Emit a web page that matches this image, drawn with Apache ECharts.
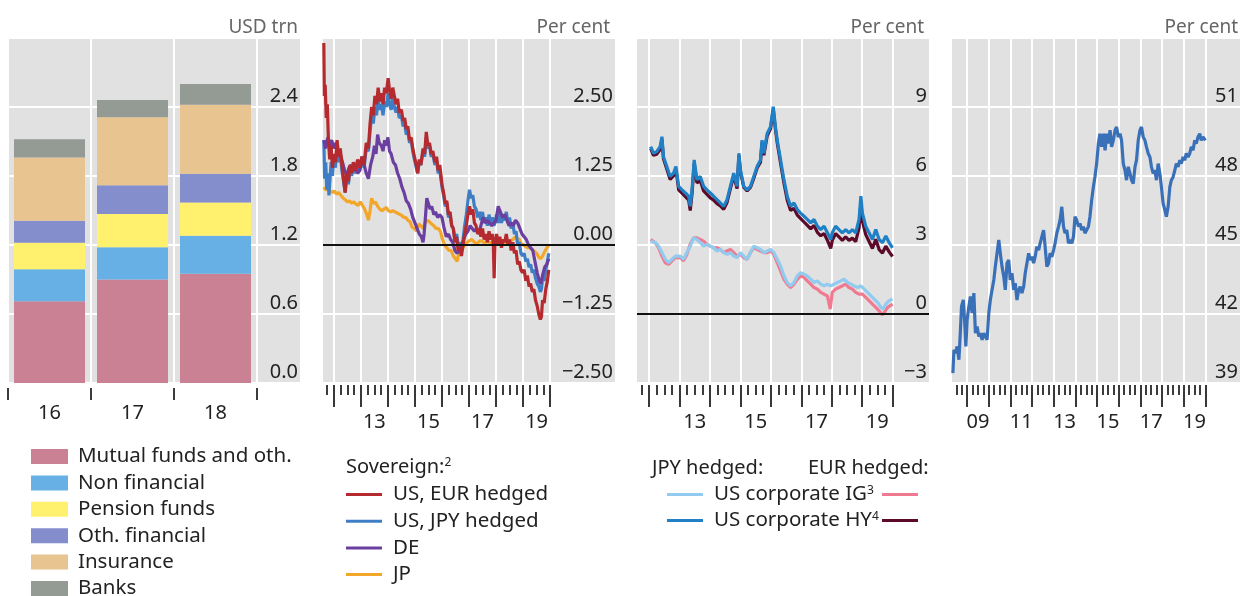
<!DOCTYPE html>
<html>
<head>
<meta charset="utf-8">
<script src="https://cdn.jsdelivr.net/npm/echarts@6/dist/echarts.min.js"></script>
<style>
html, body { margin: 0; padding: 0; background: #fff; }
#chart { width: 1241px; height: 596px; }
</style>
</head>
<body>
<div id="chart"></div>
<script>
// ---- panel 1: holders, USD trn ----
var barYears = ['16', '17', '18'];
var mutualFunds = [0.71, 0.90, 0.95];
var nonFinancial = [0.28, 0.28, 0.33];
var pensionFunds = [0.23, 0.29, 0.29];
var othFinancial = [0.19, 0.25, 0.25];
var insurance = [0.55, 0.59, 0.60];
var banks = [0.16, 0.15, 0.18];

// ---- panel 2: sovereign yields, per cent ----
var usEurHedged = [[2011.63,3.66],[2011.65,2.7],[2011.68,2.9],[2011.72,2.3],[2011.76,2.55],[2011.80,1.9],[2011.85,1.55],[2011.90,1.8],[2011.95,1.4],[2012.00,1.65],[2012.06,1.5],[2012.12,1.9],[2012.18,1.6],[2012.24,1.75],[2012.30,1.45],[2012.36,1.2],[2012.42,0.95],[2012.48,1.3],[2012.54,1.15],[2012.60,1.45],[2012.66,1.3],[2012.72,1.5],[2012.80,1.35],[2012.88,1.55],[2012.96,1.4],[2013.04,1.6],[2013.12,1.45],[2013.20,1.85],[2013.28,1.75],[2013.34,2.2],[2013.40,2.5],[2013.46,2.35],[2013.52,2.7],[2013.58,2.55],[2013.64,2.85],[2013.70,2.6],[2013.76,2.75],[2013.82,2.55],[2013.88,2.85],[2013.94,2.75],[2014.01,3.02],[2014.06,2.8],[2014.12,2.65],[2014.18,2.85],[2014.24,2.7],[2014.30,2.55],[2014.36,2.65],[2014.42,2.4],[2014.50,2.45],[2014.56,2.25],[2014.62,2.3],[2014.68,2.1],[2014.74,2.15],[2014.80,1.9],[2014.86,1.95],[2014.92,1.75],[2014.98,1.6],[2015.05,1.45],[2015.10,1.3],[2015.16,1.55],[2015.22,1.45],[2015.30,1.75],[2015.36,1.65],[2015.42,2.05],[2015.48,1.8],[2015.54,1.85],[2015.60,1.65],[2015.66,1.7],[2015.74,1.5],[2015.80,1.6],[2015.86,1.35],[2015.92,1.45],[2016.00,1.1],[2016.06,0.95],[2016.12,0.75],[2016.18,0.8],[2016.24,0.55],[2016.30,0.6],[2016.36,0.35],[2016.42,0.3],[2016.48,0.05],[2016.54,0.15],[2016.60,-0.1],[2016.66,-0.05],[2016.72,-0.2],[2016.78,0.0],[2016.84,0.2],[2016.90,0.35],[2016.96,0.55],[2017.02,0.7],[2017.08,0.55],[2017.14,0.65],[2017.20,0.4],[2017.26,0.35],[2017.32,0.2],[2017.38,0.3],[2017.44,0.15],[2017.50,0.3],[2017.56,0.1],[2017.62,0.2],[2017.68,0.05],[2017.74,0.25],[2017.80,0.1],[2017.86,0.2],[2017.90,0.0],[2017.93,-0.6],[2017.96,0.05],[2018.02,0.2],[2018.08,0.0],[2018.14,0.15],[2018.20,-0.05],[2018.26,0.1],[2018.32,0.05],[2018.38,0.2],[2018.44,0.0],[2018.50,0.1],[2018.56,-0.1],[2018.62,0.05],[2018.68,-0.15],[2018.74,-0.1],[2018.80,-0.35],[2018.86,-0.3],[2018.92,-0.45],[2018.98,-0.5],[2019.04,-0.45],[2019.10,-0.65],[2019.16,-0.55],[2019.22,-0.75],[2019.28,-0.7],[2019.34,-0.85],[2019.40,-0.8],[2019.46,-1.0],[2019.52,-1.1],[2019.58,-1.25],[2019.64,-1.35],[2019.68,-1.3],[2019.72,-1.0],[2019.78,-1.05],[2019.84,-0.8],[2019.90,-0.65],[2019.95,-0.45]];
var usJpyHedged = [[2011.63,1.9],[2011.66,1.2],[2011.70,1.5],[2011.74,1.0],[2011.78,1.3],[2011.82,0.9],[2011.86,1.2],[2011.90,1.5],[2011.95,1.25],[2012.00,1.6],[2012.06,1.4],[2012.12,1.75],[2012.18,1.5],[2012.24,1.65],[2012.30,1.35],[2012.36,1.15],[2012.42,0.95],[2012.48,1.25],[2012.54,1.1],[2012.60,1.4],[2012.66,1.25],[2012.72,1.45],[2012.80,1.3],[2012.88,1.5],[2012.96,1.35],[2013.04,1.55],[2013.12,1.4],[2013.20,1.75],[2013.28,1.7],[2013.34,2.05],[2013.40,2.35],[2013.46,2.2],[2013.52,2.5],[2013.58,2.35],[2013.64,2.65],[2013.70,2.45],[2013.76,2.55],[2013.82,2.35],[2013.88,2.6],[2013.94,2.5],[2014.01,2.75],[2014.06,2.55],[2014.12,2.45],[2014.18,2.65],[2014.24,2.5],[2014.30,2.4],[2014.36,2.5],[2014.42,2.3],[2014.50,2.35],[2014.56,2.15],[2014.62,2.2],[2014.68,2.0],[2014.74,2.05],[2014.80,1.85],[2014.86,1.9],[2014.92,1.7],[2014.98,1.55],[2015.05,1.4],[2015.10,1.3],[2015.16,1.5],[2015.22,1.45],[2015.30,1.7],[2015.36,1.6],[2015.42,1.95],[2015.48,1.75],[2015.54,1.8],[2015.60,1.6],[2015.66,1.65],[2015.74,1.45],[2015.80,1.55],[2015.86,1.3],[2015.92,1.35],[2016.00,1.05],[2016.06,0.9],[2016.12,0.7],[2016.18,0.75],[2016.24,0.5],[2016.30,0.55],[2016.36,0.35],[2016.42,0.3],[2016.48,0.1],[2016.54,0.2],[2016.60,0.0],[2016.66,0.05],[2016.72,-0.1],[2016.78,0.1],[2016.84,0.35],[2016.90,0.55],[2016.96,0.8],[2017.02,1.0],[2017.08,0.85],[2017.14,0.9],[2017.20,0.7],[2017.26,0.65],[2017.32,0.5],[2017.38,0.6],[2017.44,0.45],[2017.50,0.6],[2017.56,0.4],[2017.62,0.5],[2017.68,0.35],[2017.74,0.55],[2017.80,0.4],[2017.86,0.5],[2017.92,0.35],[2017.96,0.4],[2018.02,0.55],[2018.08,0.4],[2018.14,0.6],[2018.20,0.4],[2018.26,0.5],[2018.32,0.45],[2018.38,0.6],[2018.44,0.4],[2018.50,0.5],[2018.56,0.3],[2018.62,0.4],[2018.68,0.2],[2018.74,0.25],[2018.80,0.0],[2018.86,0.05],[2018.92,-0.15],[2018.98,-0.2],[2019.04,-0.15],[2019.10,-0.3],[2019.16,-0.25],[2019.22,-0.4],[2019.28,-0.35],[2019.34,-0.5],[2019.40,-0.45],[2019.46,-0.6],[2019.52,-0.7],[2019.58,-0.75],[2019.64,-0.85],[2019.68,-0.8],[2019.72,-0.6],[2019.78,-0.65],[2019.84,-0.45],[2019.90,-0.3],[2019.95,-0.15]];
var deYield = [[2011.63,1.9],[2011.70,1.75],[2011.78,1.95],[2011.85,1.8],[2011.92,1.9],[2012.00,1.75],[2012.08,1.85],[2012.16,1.7],[2012.24,1.65],[2012.32,1.5],[2012.40,1.35],[2012.48,1.25],[2012.56,1.4],[2012.64,1.45],[2012.72,1.35],[2012.80,1.4],[2012.88,1.3],[2012.96,1.35],[2013.04,1.6],[2013.12,1.45],[2013.20,1.3],[2013.28,1.2],[2013.36,1.45],[2013.44,1.6],[2013.50,1.8],[2013.56,1.65],[2013.62,2.0],[2013.68,1.85],[2013.76,1.8],[2013.82,1.7],[2013.88,1.9],[2013.94,1.8],[2014.00,1.95],[2014.06,1.7],[2014.12,1.65],[2014.20,1.5],[2014.28,1.45],[2014.36,1.3],[2014.44,1.2],[2014.52,1.05],[2014.60,0.95],[2014.68,0.8],[2014.76,0.75],[2014.84,0.65],[2014.92,0.5],[2015.00,0.4],[2015.08,0.3],[2015.16,0.2],[2015.24,0.15],[2015.30,0.05],[2015.34,0.2],[2015.38,0.45],[2015.44,0.85],[2015.50,0.75],[2015.56,0.65],[2015.62,0.7],[2015.70,0.55],[2015.76,0.6],[2015.84,0.5],[2015.92,0.55],[2016.00,0.5],[2016.08,0.3],[2016.16,0.15],[2016.24,0.2],[2016.32,0.1],[2016.40,0.05],[2016.48,-0.1],[2016.56,-0.15],[2016.64,-0.1],[2016.72,-0.05],[2016.80,0.1],[2016.88,0.2],[2016.96,0.25],[2017.04,0.35],[2017.12,0.3],[2017.20,0.25],[2017.28,0.3],[2017.36,0.2],[2017.44,0.35],[2017.52,0.5],[2017.60,0.4],[2017.68,0.45],[2017.76,0.4],[2017.84,0.35],[2017.92,0.4],[2018.00,0.45],[2018.08,0.7],[2018.16,0.6],[2018.24,0.5],[2018.32,0.55],[2018.40,0.45],[2018.48,0.35],[2018.56,0.4],[2018.64,0.35],[2018.72,0.45],[2018.80,0.4],[2018.88,0.3],[2018.96,0.2],[2019.04,0.15],[2019.12,0.1],[2019.20,0.0],[2019.28,-0.05],[2019.36,-0.1],[2019.44,-0.3],[2019.52,-0.5],[2019.60,-0.65],[2019.66,-0.7],[2019.72,-0.55],[2019.80,-0.4],[2019.88,-0.35],[2019.95,-0.25]];
var jpYield = [[2011.63,1.05],[2011.70,1.0],[2011.78,1.02],[2011.86,0.98],[2011.94,0.95],[2012.02,0.98],[2012.10,0.92],[2012.18,0.95],[2012.26,0.9],[2012.34,0.85],[2012.42,0.82],[2012.50,0.78],[2012.58,0.8],[2012.66,0.76],[2012.74,0.78],[2012.82,0.74],[2012.90,0.72],[2012.98,0.78],[2013.06,0.72],[2013.14,0.65],[2013.22,0.55],[2013.28,0.45],[2013.34,0.62],[2013.40,0.85],[2013.46,0.75],[2013.54,0.78],[2013.62,0.7],[2013.70,0.65],[2013.78,0.62],[2013.86,0.65],[2013.94,0.68],[2014.02,0.62],[2014.10,0.6],[2014.18,0.62],[2014.26,0.6],[2014.34,0.58],[2014.42,0.56],[2014.50,0.54],[2014.58,0.5],[2014.66,0.5],[2014.74,0.45],[2014.82,0.42],[2014.90,0.32],[2014.98,0.3],[2015.06,0.25],[2015.14,0.38],[2015.22,0.35],[2015.30,0.3],[2015.38,0.4],[2015.46,0.45],[2015.54,0.42],[2015.62,0.38],[2015.70,0.35],[2015.78,0.3],[2015.86,0.3],[2015.94,0.25],[2016.02,0.1],[2016.10,0.0],[2016.18,-0.05],[2016.26,-0.1],[2016.34,-0.1],[2016.42,-0.2],[2016.50,-0.25],[2016.56,-0.3],[2016.62,-0.15],[2016.70,-0.08],[2016.78,-0.05],[2016.86,0.02],[2016.94,0.05],[2017.02,0.08],[2017.10,0.1],[2017.18,0.06],[2017.26,0.02],[2017.34,0.05],[2017.42,0.08],[2017.50,0.06],[2017.58,0.04],[2017.66,0.06],[2017.74,0.05],[2017.82,0.04],[2017.90,0.05],[2017.98,0.06],[2018.06,0.07],[2018.14,0.05],[2018.22,0.04],[2018.30,0.05],[2018.38,0.04],[2018.46,0.05],[2018.54,0.08],[2018.62,0.1],[2018.70,0.14],[2018.78,0.12],[2018.86,0.1],[2018.94,0.02],[2019.02,0.0],[2019.10,-0.03],[2019.18,-0.05],[2019.26,-0.05],[2019.34,-0.08],[2019.42,-0.12],[2019.50,-0.15],[2019.58,-0.22],[2019.66,-0.25],[2019.72,-0.2],[2019.80,-0.12],[2019.88,-0.05],[2019.95,0.0]];
var p2LabelYears = [2013, 2015, 2017, 2019];

// ---- panel 3: US corporate yields, hedged, per cent ----
var hyJpyHedged = [[2012.05,7.28],[2012.14,6.99],[2012.25,7.06],[2012.36,7.28],[2012.42,7.71],[2012.47,6.84],[2012.58,6.41],[2012.69,5.98],[2012.80,6.12],[2012.88,6.41],[2012.97,5.55],[2013.08,5.40],[2013.19,5.26],[2013.30,5.12],[2013.35,4.68],[2013.41,5.40],[2013.48,6.70],[2013.57,5.84],[2013.68,5.98],[2013.79,5.55],[2013.90,5.40],[2014.01,5.26],[2014.12,5.12],[2014.23,4.97],[2014.34,4.83],[2014.45,4.68],[2014.51,4.61],[2014.56,4.97],[2014.67,5.55],[2014.78,6.12],[2014.89,5.55],[2014.95,6.99],[2015.00,6.27],[2015.11,5.55],[2015.22,5.40],[2015.33,5.55],[2015.44,5.98],[2015.55,6.41],[2015.66,6.70],[2015.71,7.56],[2015.77,6.99],[2015.88,7.85],[2015.99,8.14],[2016.08,9.01],[2016.15,8.14],[2016.21,7.56],[2016.32,6.70],[2016.43,5.84],[2016.54,5.12],[2016.65,4.68],[2016.76,4.83],[2016.87,4.54],[2016.98,4.39],[2017.09,4.25],[2017.20,4.11],[2017.31,3.96],[2017.42,4.11],[2017.53,3.82],[2017.64,3.67],[2017.75,3.82],[2017.86,3.53],[2017.97,3.24],[2018.02,3.53],[2018.13,3.82],[2018.24,3.67],[2018.35,3.53],[2018.46,3.67],[2018.57,3.53],[2018.68,3.67],[2018.79,3.53],[2018.90,4.11],[2018.96,5.12],[2019.01,4.39],[2019.12,3.82],[2019.23,3.53],[2019.34,3.24],[2019.45,3.67],[2019.56,3.24],[2019.67,3.10],[2019.78,3.39],[2019.89,3.10],[2020.00,2.88]];
var hyEurHedged = [[2012.05,7.2],[2012.14,6.9],[2012.25,6.95],[2012.36,7.15],[2012.42,7.6],[2012.47,6.75],[2012.58,6.3],[2012.69,5.85],[2012.80,6.0],[2012.88,6.3],[2012.97,5.4],[2013.08,5.25],[2013.19,5.1],[2013.30,4.95],[2013.35,4.5],[2013.41,5.25],[2013.48,6.55],[2013.57,5.7],[2013.68,5.8],[2013.79,5.35],[2013.90,5.2],[2014.01,5.05],[2014.12,4.95],[2014.23,4.8],[2014.34,4.7],[2014.45,4.55],[2014.51,4.5],[2014.56,4.85],[2014.67,5.45],[2014.78,6.0],[2014.89,5.45],[2014.95,6.9],[2015.00,6.2],[2015.11,5.5],[2015.22,5.35],[2015.33,5.5],[2015.44,5.9],[2015.55,6.35],[2015.66,6.6],[2015.71,7.45],[2015.77,6.9],[2015.88,7.75],[2015.99,8.05],[2016.08,8.9],[2016.15,8.05],[2016.21,7.45],[2016.32,6.55],[2016.43,5.7],[2016.54,4.95],[2016.65,4.5],[2016.76,4.6],[2016.87,4.3],[2016.98,4.15],[2017.09,4.0],[2017.20,3.85],[2017.31,3.7],[2017.42,3.85],[2017.53,3.55],[2017.64,3.4],[2017.75,3.5],[2017.86,3.2],[2017.97,2.85],[2018.02,3.2],[2018.13,3.5],[2018.24,3.35],[2018.35,3.2],[2018.46,3.35],[2018.57,3.2],[2018.68,3.3],[2018.79,3.15],[2018.90,3.75],[2018.96,4.8],[2019.01,4.05],[2019.12,3.45],[2019.23,3.15],[2019.34,2.85],[2019.45,3.25],[2019.56,2.8],[2019.67,2.65],[2019.78,2.95],[2019.89,2.7],[2020.00,2.5]];
var igJpyHedged = [[2012.05,3.17],[2012.20,3.10],[2012.31,2.95],[2012.42,2.67],[2012.53,2.38],[2012.64,2.23],[2012.75,2.38],[2012.86,2.52],[2013.02,2.52],[2013.13,2.38],[2013.24,2.67],[2013.35,2.95],[2013.46,3.31],[2013.57,3.24],[2013.68,3.10],[2013.79,2.95],[2013.90,3.03],[2014.01,2.95],[2014.12,2.88],[2014.23,2.74],[2014.34,2.81],[2014.45,2.67],[2014.56,2.59],[2014.67,2.67],[2014.78,2.52],[2014.89,2.45],[2015.00,2.67],[2015.11,2.52],[2015.22,2.38],[2015.33,2.67],[2015.44,2.95],[2015.55,2.88],[2015.66,2.81],[2015.77,2.67],[2015.88,2.74],[2015.99,2.81],[2016.10,2.67],[2016.21,2.38],[2016.32,2.09],[2016.43,1.66],[2016.54,1.37],[2016.65,1.22],[2016.76,1.37],[2016.87,1.66],[2016.98,1.80],[2017.09,1.73],[2017.20,1.66],[2017.31,1.51],[2017.42,1.37],[2017.53,1.44],[2017.64,1.30],[2017.75,1.22],[2017.86,1.30],[2017.97,1.22],[2018.08,1.30],[2018.19,1.37],[2018.30,1.44],[2018.41,1.51],[2018.52,1.37],[2018.63,1.30],[2018.74,1.22],[2018.85,1.15],[2018.96,1.22],[2019.07,1.08],[2019.18,0.94],[2019.29,0.79],[2019.40,0.65],[2019.51,0.50],[2019.62,0.29],[2019.70,0.22],[2019.78,0.43],[2019.89,0.58],[2020.00,0.65]];
var igEurHedged = [[2012.05,3.24],[2012.20,3.10],[2012.31,2.88],[2012.42,2.52],[2012.53,2.23],[2012.64,2.16],[2012.75,2.31],[2012.86,2.45],[2013.02,2.45],[2013.13,2.31],[2013.24,2.59],[2013.35,3.03],[2013.46,3.31],[2013.57,3.31],[2013.68,3.24],[2013.79,3.17],[2013.90,3.03],[2014.01,2.95],[2014.12,2.88],[2014.23,2.88],[2014.34,2.81],[2014.45,2.67],[2014.56,2.74],[2014.67,2.81],[2014.78,2.67],[2014.89,2.52],[2015.00,2.59],[2015.11,2.45],[2015.22,2.38],[2015.33,2.67],[2015.44,2.88],[2015.55,2.81],[2015.66,2.74],[2015.77,2.67],[2015.88,2.67],[2015.99,2.74],[2016.10,2.59],[2016.21,2.23],[2016.32,1.87],[2016.43,1.51],[2016.54,1.30],[2016.65,1.15],[2016.76,1.30],[2016.87,1.51],[2016.98,1.66],[2017.09,1.59],[2017.20,1.44],[2017.31,1.30],[2017.42,1.15],[2017.53,1.08],[2017.64,0.94],[2017.75,0.86],[2017.86,0.79],[2017.95,0.22],[2018.02,0.94],[2018.13,1.08],[2018.24,1.15],[2018.35,1.22],[2018.46,1.30],[2018.57,1.15],[2018.68,1.08],[2018.79,0.94],[2018.90,0.86],[2019.01,0.86],[2019.12,0.72],[2019.23,0.58],[2019.34,0.43],[2019.45,0.29],[2019.56,0.14],[2019.67,-0.04],[2019.73,0.07],[2019.84,0.29],[2020.00,0.43]];
var p3LabelYears = [2013, 2015, 2017, 2019];

// ---- panel 4: per cent ----
var sharePct = [[2008.34,39.43],[2008.39,40.44],[2008.46,40.30],[2008.54,40.59],[2008.62,40.01],[2008.69,41.31],[2008.74,42.33],[2008.82,42.61],[2008.88,41.75],[2008.94,40.59],[2009.00,41.75],[2009.08,42.33],[2009.15,42.76],[2009.23,42.04],[2009.31,42.91],[2009.38,41.17],[2009.46,41.46],[2009.54,41.02],[2009.61,41.17],[2009.69,40.88],[2009.77,41.17],[2009.84,41.02],[2009.92,40.88],[2010.00,42.04],[2010.07,42.61],[2010.15,43.05],[2010.23,43.48],[2010.30,44.06],[2010.38,44.64],[2010.46,45.22],[2010.53,44.64],[2010.61,44.06],[2010.69,43.63],[2010.76,43.05],[2010.84,44.21],[2010.92,44.35],[2010.99,43.48],[2011.07,43.77],[2011.15,43.05],[2011.22,43.34],[2011.30,42.61],[2011.38,43.05],[2011.45,43.19],[2011.53,42.91],[2011.61,43.19],[2011.68,43.77],[2011.76,44.21],[2011.84,44.64],[2011.91,44.35],[2011.99,44.49],[2012.07,44.21],[2012.14,44.49],[2012.22,44.93],[2012.30,44.78],[2012.37,45.07],[2012.45,45.36],[2012.53,45.65],[2012.60,44.93],[2012.68,44.06],[2012.76,44.21],[2012.83,44.64],[2012.91,44.49],[2012.99,44.78],[2013.06,45.07],[2013.14,45.51],[2013.22,45.80],[2013.29,46.08],[2013.37,46.66],[2013.45,45.80],[2013.52,45.51],[2013.60,45.65],[2013.68,45.07],[2013.75,45.22],[2013.83,45.07],[2013.91,45.36],[2013.98,46.23],[2014.06,46.08],[2014.14,45.80],[2014.21,45.94],[2014.29,45.65],[2014.37,45.80],[2014.44,45.51],[2014.52,45.65],[2014.60,45.80],[2014.67,46.23],[2014.75,46.95],[2014.83,47.53],[2014.90,47.96],[2014.98,48.54],[2015.06,49.41],[2015.13,49.84],[2015.21,49.27],[2015.29,49.84],[2015.37,49.12],[2015.44,49.84],[2015.52,49.41],[2015.60,49.99],[2015.67,49.27],[2015.75,49.55],[2015.83,49.99],[2015.90,50.13],[2015.98,49.70],[2016.06,49.84],[2016.13,49.55],[2016.21,48.54],[2016.29,48.25],[2016.36,47.82],[2016.44,48.40],[2016.52,48.11],[2016.59,47.82],[2016.67,47.67],[2016.75,48.40],[2016.82,48.69],[2016.90,49.55],[2016.98,49.99],[2017.05,50.13],[2017.13,49.70],[2017.21,49.55],[2017.28,49.27],[2017.36,48.98],[2017.44,48.83],[2017.51,48.40],[2017.59,48.11],[2017.67,48.25],[2017.74,47.82],[2017.82,48.54],[2017.90,48.11],[2017.97,47.53],[2018.05,46.81],[2018.13,46.52],[2018.20,46.23],[2018.28,46.66],[2018.36,47.53],[2018.43,47.82],[2018.51,47.96],[2018.59,48.25],[2018.66,48.54],[2018.74,48.40],[2018.82,48.69],[2018.89,48.54],[2018.97,48.83],[2019.05,48.69],[2019.12,48.98],[2019.20,48.83],[2019.28,48.98],[2019.35,49.27],[2019.43,49.12],[2019.51,49.55],[2019.58,49.41],[2019.66,49.70],[2019.74,49.84],[2019.81,49.55],[2019.89,49.70],[2020.00,49.55]];
var p4LabelYears = [2009, 2011, 2013, 2015, 2017, 2019];

var corpLegend = {
    'IG JPY': 'US corporate IG{sup|3}',
    'HY JPY': 'US corporate HY{sup|4}'
};

var chart = echarts.init(document.getElementById('chart'));

var FONT = 'Noto Sans';
var TXT = '#222';
var TICK = '#3c3c3c';
var TICK_MAJOR = '#383838';
var GRAY_BG = '#E1E1E1';
var LINE_W = 3.2;
var GRID_H = 345;

function years(from, to) {
    var out = [];
    for (var y = from; y <= to; y++) out.push(y);
    return out;
}
function quarters(from, to) {
    var out = [];
    for (var y = from; y < to; y++) out.push(y + 0.25, y + 0.5, y + 0.75);
    return out;
}
function twoDigit(v) {
    return String(Math.floor(v)).slice(2);
}
function signed(v, digits) {
    var s = digits == null ? String(Math.abs(v)) : Math.abs(v).toFixed(digits);
    return (v < 0 ? '\u2212' : '') + s;
}

// main time axis: white year gridlines, labels mid-year
function timeAxis(gridIndex, min, max, tickYears, labelYears) {
    return {
        type: 'value', gridIndex: gridIndex, position: 'bottom', offset: 2,
        min: min, max: max,
        axisLine: { show: false, onZero: false },
        axisTick: { show: false, customValues: tickYears },
        splitLine: { show: true, lineStyle: { color: '#fff', width: 2 } },
        axisLabel: {
            customValues: labelYears.map(function (y) { return y + 0.5; }),
            formatter: twoDigit, margin: 27, fontSize: 20, color: TXT, fontFamily: FONT
        }
    };
}
// tick-only axis at the bottom (custom positions)
function tickAxis(gridIndex, min, max, ticks, len, color) {
    return {
        type: 'value', gridIndex: gridIndex, position: 'bottom', offset: 2,
        min: min, max: max,
        axisLine: { show: false, onZero: false },
        axisTick: { show: true, customValues: ticks, length: len, lineStyle: { color: color, width: 2 } },
        splitLine: { show: false },
        axisLabel: { show: false }
    };
}
// long year ticks: plain interval-1 axis on a grid spanning first..last year
function yearTickAxis(gridIndex, first, last) {
    return {
        type: 'value', gridIndex: gridIndex, position: 'bottom', offset: 2,
        min: first, max: last, interval: 1,
        axisLine: { show: false, onZero: false },
        axisTick: { show: true, length: 22, lineStyle: { color: TICK_MAJOR, width: 2 } },
        splitLine: { show: false },
        axisLabel: { show: false }
    };
}
function hiddenY(gridIndex) {
    return { type: 'value', gridIndex: gridIndex, min: 0, max: 1, show: false };
}
function valueAxis(gridIndex, min, max, interval, name, namePad, fmt) {
    return {
        type: 'value', gridIndex: gridIndex, position: 'right',
        min: min, max: max, interval: interval,
        name: name, nameLocation: 'end', nameGap: 1,
        nameTextStyle: { align: 'right', verticalAlign: 'bottom', color: '#666', fontSize: 19, fontFamily: FONT, padding: [0, namePad, 0, 0] },
        axisLine: { show: false, onZero: false },
        axisTick: { show: false },
        splitLine: { show: true, lineStyle: { color: '#fff', width: 2 } },
        axisLabel: {
            inside: true, margin: 2, showMaxLabel: false,
            fontSize: 20, color: TXT, fontFamily: FONT,
            verticalAlign: 'bottom', lineHeight: 20, padding: [0, 0, 1, 0],
            formatter: fmt
        }
    };
}

var barDefs = [
    ['Mutual funds and oth.', mutualFunds, '#C98193'],
    ['Non financial', nonFinancial, '#66B0E6'],
    ['Pension funds', pensionFunds, '#FFF06E'],
    ['Oth. financial', othFinancial, '#848ECC'],
    ['Insurance', insurance, '#E8C490'],
    ['Banks', banks, '#949A94']
];
var barSeries = barDefs.map(function (d) {
    return {
        name: d[0], type: 'bar', stack: 'holders', xAxisIndex: 1, yAxisIndex: 4,
        barWidth: 71, itemStyle: { color: d[2] },
        data: d[1]
    };
});

function lineSeries(name, data, color, xIdx, yIdx, extra) {
    var s = {
        name: name, type: 'line', data: data, xAxisIndex: xIdx, yAxisIndex: yIdx,
        showSymbol: false, symbol: 'none',
        itemStyle: { color: color },
        lineStyle: { color: color, width: LINE_W }
    };
    if (extra) s.markLine = extra;
    return s;
}
var zeroLine = {
    silent: true, symbol: 'none', label: { show: false },
    lineStyle: { color: '#111', width: 2, type: 'solid' },
    data: [{ yAxis: 0 }]
};

var legendText = { fontSize: 20.5, lineHeight: 20, color: TXT, fontFamily: FONT };
var supStyle = { fontSize: 12, lineHeight: 12, verticalAlign: 'top', color: TXT, fontFamily: FONT };

var P2 = [2011.6, 2022.4], P3 = [2011.6, 2021.2], P4 = [2008.3, 2021.6];
var panelRects = [
    { left: 8, top: 38, width: 292, height: GRID_H },
    { left: 323, top: 38, width: 292, height: GRID_H },
    { left: 637, top: 38, width: 292, height: GRID_H },
    { left: 952, top: 38, width: 288, height: GRID_H }
];
// grid rectangle covering only first..last year of a panel's time range
function yearSpanRect(rect, range, first, last) {
    var pxPerYear = rect.width / (range[1] - range[0]);
    return {
        left: rect.left + (first - range[0]) * pxPerYear,
        top: rect.top,
        width: (last - first) * pxPerYear,
        height: rect.height,
        show: false
    };
}

var option = {
    animation: false,
    textStyle: { fontFamily: FONT },
    grid: [
        // 0-3 panels
        Object.assign({ show: true }, panelRects[0]),
        Object.assign({ show: true }, panelRects[1]),
        Object.assign({ show: true }, panelRects[2]),
        Object.assign({ show: true }, panelRects[3]),
        // 4 bar area of panel 1
        { left: 8, top: 38, width: 249, height: GRID_H, show: false },
        // 5-7 year-span grids carrying the long year ticks
        yearSpanRect(panelRects[1], P2, 2012, 2020),
        yearSpanRect(panelRects[2], P3, 2012, 2020),
        yearSpanRect(panelRects[3], P4, 2009, 2020)
    ].map(function (g) {
        return Object.assign({ backgroundColor: GRAY_BG, borderWidth: 0, outerBoundsMode: 'none' }, g);
    }),
    title: [
        {
            text: 'Sovereign:{sup|2}', left: 346, top: 457, padding: 0,
            textStyle: { fontSize: 20, fontWeight: 'normal', lineHeight: 20, color: TXT, fontFamily: FONT, rich: { sup: supStyle } }
        },
        { text: 'JPY hedged:', left: 652, top: 458, padding: 0,
          textStyle: { fontSize: 20, fontWeight: 'normal', lineHeight: 20, color: TXT, fontFamily: FONT } },
        { text: 'EUR hedged:', left: 808, top: 458, padding: 0,
          textStyle: { fontSize: 20, fontWeight: 'normal', lineHeight: 20, color: TXT, fontFamily: FONT } }
    ],
    legend: [
        {
            orient: 'vertical', left: 31, top: 446, height: 170, padding: 0, itemGap: 5.4,
            itemWidth: 37, itemHeight: 15, icon: 'rect', selectedMode: false,
            itemStyle: { borderWidth: 0 },
            data: barDefs.map(function (d) { return d[0]; }),
            textStyle: Object.assign({ padding: [0, 0, 0, 5] }, legendText)
        },
        {
            orient: 'vertical', left: 346, top: 484, height: 120, padding: 0, itemGap: 5.7,
            itemWidth: 36, itemHeight: 3, icon: 'rect', selectedMode: false,
            itemStyle: { borderWidth: 0 },
            data: ['US, EUR hedged', 'US, JPY hedged', 'DE', 'JP'],
            textStyle: Object.assign({ padding: [0, 0, 0, 6] }, legendText)
        },
        {
            orient: 'vertical', left: 667, top: 484, padding: 0, itemGap: 5,
            itemWidth: 36, itemHeight: 3, icon: 'rect', selectedMode: false,
            itemStyle: { borderWidth: 0 },
            data: ['IG JPY', 'HY JPY'],
            formatter: function (name) { return corpLegend[name]; },
            textStyle: Object.assign({ padding: [0, 0, 0, 6], rich: { sup: supStyle } }, legendText)
        },
        {
            orient: 'vertical', left: 882, top: 484, padding: 0, itemGap: 5,
            itemWidth: 36, itemHeight: 3, icon: 'rect', selectedMode: false,
            itemStyle: { borderWidth: 0 },
            data: ['IG EUR', 'HY EUR'],
            formatter: function () { return ' '; },
            textStyle: legendText
        }
    ],
    xAxis: [
        // 0: panel 1 background grid (no marks)
        { type: 'value', gridIndex: 0, min: 0, max: 1, show: false },
        // 1: panel 1 bars
        {
            type: 'category', gridIndex: 4, data: barYears, position: 'bottom', offset: 5,
            boundaryGap: true,
            axisLine: { show: false, onZero: false },
            axisTick: { show: true, interval: 0, length: 12, lineStyle: { color: TICK, width: 2 } },
            splitLine: { show: true, interval: 0, lineStyle: { color: '#fff', width: 2 } },
            axisLabel: { interval: 0, margin: 15, fontSize: 20, color: TXT, fontFamily: FONT }
        },
        // 2-3: panel 2 (quarter axis also marks the years)
        timeAxis(1, P2[0], P2[1], years(2012, 2020), p2LabelYears),
        tickAxis(1, P2[0], P2[1], quarters(2011, 2020).concat(years(2012, 2020)), 10, TICK),
        // 4-5: panel 3
        timeAxis(2, P3[0], P3[1], years(2012, 2020), p3LabelYears),
        tickAxis(2, P3[0], P3[1], quarters(2011, 2020).concat(years(2012, 2020)), 10, TICK),
        // 6-7: panel 4
        timeAxis(3, P4[0], P4[1], years(2009, 2020), p4LabelYears),
        tickAxis(3, P4[0], P4[1], quarters(2008, 2020).concat(years(2009, 2020)), 10, TICK),
        // 8-10: long year ticks
        yearTickAxis(5, 2012, 2020),
        yearTickAxis(6, 2012, 2020),
        yearTickAxis(7, 2009, 2020)
    ],
    yAxis: [
        valueAxis(0, 0, 3.0, 0.6, 'USD trn', 2, function (v) { return v.toFixed(1); }),
        valueAxis(1, -2.5, 3.75, 1.25, 'Per cent', 5, function (v) { return signed(v, 2); }),
        valueAxis(2, -3, 12, 3, 'Per cent', 5, function (v) { return signed(v); }),
        valueAxis(3, 39, 54, 3, 'Per cent', 2, function (v) { return String(v); }),
        { type: 'value', gridIndex: 4, min: 0, max: 3.0, show: false },
        hiddenY(5), hiddenY(6), hiddenY(7)
    ],
    series: barSeries.concat([
        lineSeries('JP', jpYield, '#F2A72B', 2, 1, zeroLine),
        lineSeries('US, JPY hedged', usJpyHedged, '#3F7EC4', 2, 1),
        lineSeries('DE', deYield, '#6B3FA0', 2, 1),
        lineSeries('US, EUR hedged', usEurHedged, '#B52A2E', 2, 1),
        lineSeries('HY EUR', hyEurHedged, '#5C0A2A', 4, 2, zeroLine),
        lineSeries('HY JPY', hyJpyHedged, '#1F80C6', 4, 2),
        lineSeries('IG EUR', igEurHedged, '#F07A90', 4, 2),
        lineSeries('IG JPY', igJpyHedged, '#92CBF0', 4, 2),
        lineSeries('Share', sharePct, '#3A70B8', 6, 3)
    ])
};

chart.setOption(option);
</script>
</body>
</html>
